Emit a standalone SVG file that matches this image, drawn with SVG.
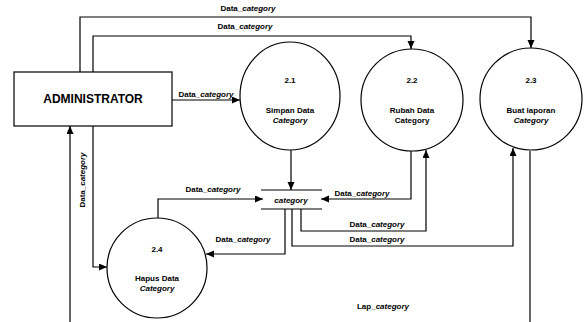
<svg xmlns="http://www.w3.org/2000/svg" width="587" height="322" viewBox="0 0 587 322">
<defs>
<marker id="arr" markerUnits="userSpaceOnUse" markerWidth="9" markerHeight="8" refX="8" refY="3.5" orient="auto">
<path d="M0,0 L8,3.5 L0,7 z" fill="#000"/>
</marker>
<style>
text{font-family:"Liberation Sans",Arial,sans-serif;font-weight:bold;fill:#000}
.lb{font-size:8px;text-anchor:middle}
.big{font-size:12px;text-anchor:middle}
.it{font-style:italic}
.shape{fill:#fff;stroke:#000;stroke-width:1.2}
.conn path{fill:none;stroke:#000;stroke-width:1.2}
.conn path.a{marker-end:url(#arr)}
</style>
</defs>
<rect width="587" height="322" fill="#fff"/>
<g class="conn" id="connectors">
<path class="a" d="M80,72 V17 H531 V48"/>
<path class="a" d="M93,72 V36 H411 V49"/>
<path class="a" d="M172,100 H240"/>
<path class="a" d="M70,322 V126"/>
<path class="a" d="M93,126 V267 H107"/>
<path class="a" d="M291,150 V190"/>
<path class="a" d="M158,218 V199 H263"/>
<path class="a" d="M411,151 V199 H321"/>
<path class="a" d="M301,209 V231 H426 V150"/>
<path class="a" d="M292,209 V246 H513 V148"/>
<path class="a" d="M285,209 V254 H206"/>
<path d="M530,151 V322"/>
</g>
<g id="labels">
<text class="lb" x="248" y="11">Data_<tspan class="it">category</tspan></text>
<text class="lb" x="245" y="29">Data_<tspan class="it">category</tspan></text>
<text class="lb" x="206" y="97">Data_<tspan class="it">category</tspan></text>
<text class="lb" transform="translate(85,180) rotate(-90)">Data_<tspan class="it">category</tspan></text>
<text class="lb" x="213" y="192">Data_<tspan class="it">category</tspan></text>
<text class="lb" x="362" y="196">Data_<tspan class="it">category</tspan></text>
<text class="lb" x="377" y="227">Data_<tspan class="it">category</tspan></text>
<text class="lb" x="377" y="242">Data_<tspan class="it">category</tspan></text>
<text class="lb" x="243" y="242">Data_<tspan class="it">category</tspan></text>
<text class="lb" x="383" y="309">Lap_<tspan class="it">category</tspan></text>
</g>
<g id="administrator">
<rect class="shape" x="14" y="72" width="158" height="54"/>
<text class="big" x="93" y="103">ADMINISTRATOR</text>
</g>
<g id="p2_1">
<ellipse class="shape" cx="290" cy="96" rx="50" ry="54"/>
<text class="lb" x="290" y="83">2.1</text>
<text class="lb" x="290" y="113">Simpan Data</text>
<text class="lb it" x="290" y="123">Category</text>
</g>
<g id="p2_2">
<circle class="shape" cx="412" cy="100" r="51"/>
<text class="lb" x="412" y="83">2.2</text>
<text class="lb" x="412" y="113">Rubah Data</text>
<text class="lb" x="412" y="123">Category</text>
</g>
<g id="p2_3">
<circle class="shape" cx="531" cy="99" r="51"/>
<text class="lb" x="531" y="83">2.3</text>
<text class="lb" x="531" y="113">Buat laporan</text>
<text class="lb it" x="531" y="123">Category</text>
</g>
<g id="p2_4">
<circle class="shape" cx="157" cy="268" r="50"/>
<text class="lb" x="157" y="252">2.4</text>
<text class="lb" x="157" y="281">Hapus Data</text>
<text class="lb it" x="157" y="291">Category</text>
</g>
<g id="store_category">
<path d="M261,190 H322 M261,209 H322" stroke="#000" stroke-width="1.2" fill="none"/>
<text class="lb it" x="291" y="203">category</text>
</g>
</svg>
